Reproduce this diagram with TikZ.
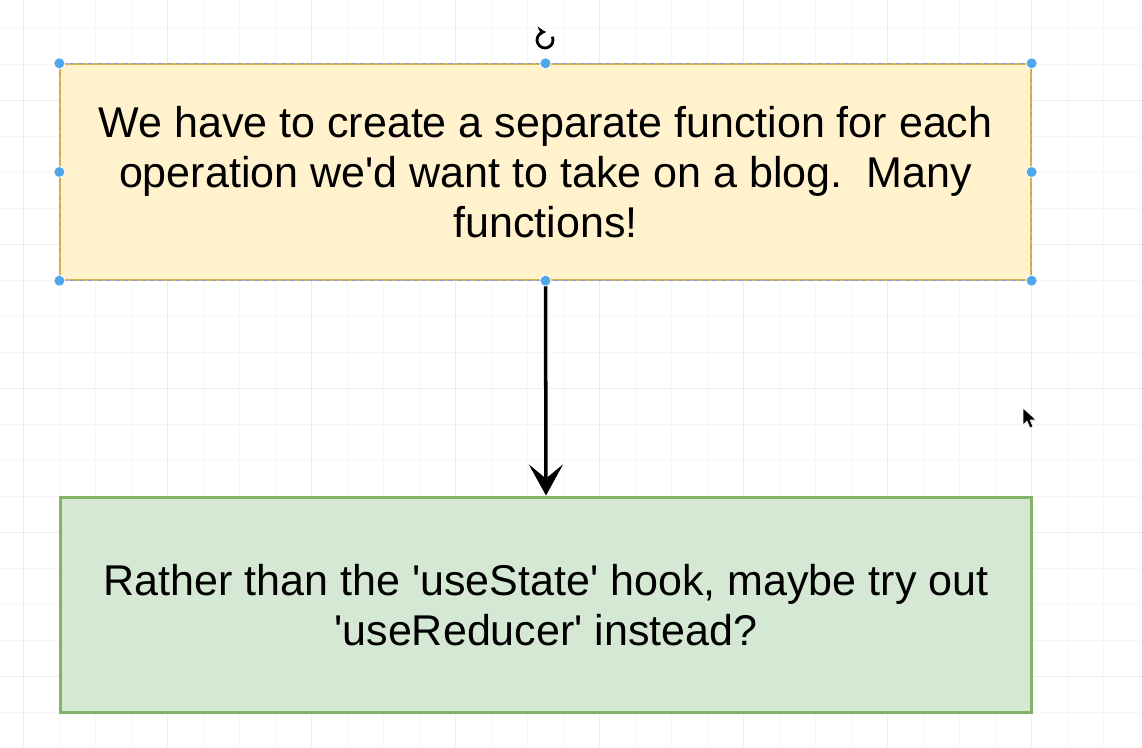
\documentclass[tikz,border=0pt]{standalone}
\usepackage{fontspec}
\setmainfont{Liberation Sans}
\usetikzlibrary{arrows.meta}
\definecolor{noteyellow}{HTML}{FFF2CC}
\definecolor{notegold}{HTML}{D6B656}
\definecolor{notegreen}{HTML}{D5E8D4}
\definecolor{notegreenline}{HTML}{82B366}
\definecolor{handleblue}{HTML}{4FA6EA}
\definecolor{gridminor}{HTML}{F6F6F6}
\definecolor{gridmajor}{HTML}{EDEDED}
\begin{document}
\begin{tikzpicture}[x=0.02cm, y=-0.02cm,
    note/.style={rectangle, minimum width=19.42cm, minimum height=4.32cm, align=center, inner sep=0pt, font=\fontsize{24.5}{28.45}\selectfont},
    yellownote/.style={note, fill=noteyellow, draw=notegold, line width=0.8pt},
    greennote/.style={note, fill=notegreen, draw=notegreenline, line width=1.7pt},
    seldash/.style={draw=gray!70!blue!60, line width=0.8pt, dash pattern=on 3pt off 2pt},
    handle/.style={fill=handleblue, draw=white, line width=0.4pt},
    flow/.style={-{Stealth[length=0.62cm, width=0.68cm, inset=0.28cm]}, line width=2pt, black},
]
\useasboundingbox (0,0) rectangle (1142,747);
% background grid
\foreach \gx in {23,59,...,1142} \draw[gridminor, line width=0.5pt] (\gx,0) -- (\gx,747);
\foreach \gy in {28,64,...,747} \draw[gridminor, line width=0.5pt] (0,\gy) -- (1142,\gy);
\foreach \gx in {23,167,...,1142} \draw[gridmajor, line width=0.5pt] (\gx,0) -- (\gx,747);
\foreach \gy in {100,244,...,747} \draw[gridmajor, line width=0.5pt] (0,\gy) -- (1142,\gy);
% the two notes
\node[yellownote] (many) at (545.5,172) {We have to create a separate function for each\\operation we\textquotesingle d want to take on a blog.\ \ Many\\functions!};
\node[greennote] (reducer) at (546,605) {Rather than the \textquotesingle useState\textquotesingle{} hook, maybe try out\\\textquotesingle useReducer\textquotesingle{} instead?};
\draw[seldash] (many.north west) rectangle (many.south east);
\draw[flow] (many.south) -- (reducer.north);
% selection handles
\foreach \h in {north west, north, north east, west, east, south west, south, south east}
  \fill[handle] (many.\h) circle (5.5);
% rotate handle
\coordinate (rot) at (545,40);
\draw[line width=1.6pt, -{Stealth[length=4.5pt, width=6pt]}] (rot) ++(-385:8) arc (-385:-88:8);
% mouse pointer
\coordinate (ptr) at (1023,408);
\filldraw[black, draw=white, line width=0.3pt] (ptr) -- ++(0,17) -- ++(4,-4) -- ++(3,7) -- ++(3,-1.5) -- ++(-3,-6.5) -- ++(6,0) -- cycle;
\end{tikzpicture}
\end{document}
